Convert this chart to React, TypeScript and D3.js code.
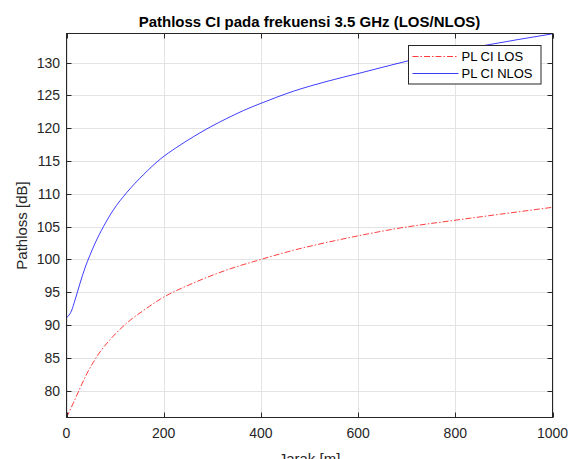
import React from "react";
import * as d3 from "d3";

const losDist = [0, 14, 28, 42, 55, 69, 90, 124, 158, 193, 261, 330, 400, 467, 536, 600, 687, 802, 893, 1000];
const losPL = [75.9, 78.1, 80.4, 82.6, 84.3, 85.9, 87.8, 90.3, 92.2, 93.95, 96.4, 98.4, 100.0, 101.4, 102.6, 103.6, 104.8, 106.0, 106.9, 107.95];

const nlosDist = [0, 11, 17.5, 28, 38, 48, 59, 76, 96, 124, 158, 193, 227, 261, 296, 330, 364, 400, 433, 467, 502, 536, 570, 603, 704, 858, 927, 1000];
const nlosPL = [91.1, 92.3, 93.8, 96.4, 98.7, 100.6, 102.5, 105.0, 107.5, 110.2, 112.9, 115.3, 117.1, 118.7, 120.2, 121.5, 122.7, 123.8, 124.75, 125.65, 126.45, 127.15, 127.8, 128.4, 130.3, 132.6, 133.5, 134.4];

const xTicks = [0, 200, 400, 600, 800, 1000];
const yTicks = [80, 85, 90, 95, 100, 105, 110, 115, 120, 125, 130];

const titleText = "Pathloss CI pada frekuensi 3.5 GHz (LOS/NLOS)";
const xLabel = "Jarak [m]";
const yLabel = "Pathloss [dB]";
const legendLabels = ["PL CI LOS", "PL CI NLOS"];

export default function App() {
  const W = 568, H = 459;
  const L = 66.5, R = 552.5, T = 33.5, B = 417.5;
  const x = d3.scaleLinear().domain([0, 1000]).range([L, R]);
  const y = d3.scaleLinear().domain([75.9, 134.45]).range([B, T]);
  const line = d3
    .line<[number, number]>()
    .x((d) => x(d[0]))
    .y((d) => y(d[1]))
    .curve(d3.curveMonotoneX);
  const losData = losDist.map((d, i) => [d, losPL[i]] as [number, number]);
  const nlosData = nlosDist.map((d, i) => [d, nlosPL[i]] as [number, number]);
  const font = "Liberation Sans, Arial, Helvetica, sans-serif";
  const axisColor = "#262626";
  const gridColor = "#e3e3e3";
  const dash = "6,2,1.5,2";

  const lgX = 408.5, lgY = 45.5, lgW = 132.5, lgH = 38.5;

  return (
    <svg
      width={W}
      height={H}
      style={{ position: "absolute", left: 0, top: 0, background: "#fff" }}
      fontFamily={font}
    >
      <rect x={0} y={0} width={W} height={H} fill="#fff" />
      {xTicks.map((t) => (
        <line key={"gx" + t} x1={Math.round(x(t)) + 0.5} x2={Math.round(x(t)) + 0.5} y1={T} y2={B} stroke={gridColor} strokeWidth={1} />
      ))}
      {yTicks.map((t) => (
        <line key={"gy" + t} x1={L} x2={R} y1={Math.round(y(t)) + 0.5} y2={Math.round(y(t)) + 0.5} stroke={gridColor} strokeWidth={1} />
      ))}
      <defs>
        <clipPath id="plotclip">
          <rect x={L} y={T - 1} width={R - L} height={B - T + 1} />
        </clipPath>
      </defs>
      <g clipPath="url(#plotclip)">
        <path d={line(losData) || ""} fill="none" stroke="#ff0000" strokeWidth={0.9} strokeDasharray={dash} opacity={0.85} />
        <path d={line(nlosData) || ""} fill="none" stroke="#0000ff" strokeWidth={0.9} opacity={0.85} />
      </g>
      <rect x={L} y={T} width={R - L} height={B - T} fill="none" stroke={axisColor} strokeWidth={1} />
      {xTicks.map((t) => {
        const px = Math.round(x(t)) + 0.5;
        return (
          <g key={"tx" + t}>
            <line x1={px} x2={px} y1={B} y2={B - 5} stroke={axisColor} />
            <line x1={px} x2={px} y1={T} y2={T + 5} stroke={axisColor} />
            <text x={x(t)} y={438} textAnchor="middle" fontSize={14} fill="#262626">
              {t}
            </text>
          </g>
        );
      })}
      {yTicks.map((t) => {
        const py = Math.round(y(t)) + 0.5;
        return (
          <g key={"ty" + t}>
            <line x1={L} x2={L + 5} y1={py} y2={py} stroke={axisColor} />
            <line x1={R} x2={R - 5} y1={py} y2={py} stroke={axisColor} />
            <text x={60} y={y(t) + 5} textAnchor="end" fontSize={14} fill="#262626">
              {t}
            </text>
          </g>
        );
      })}
      <text x={(L + R) / 2} y={27} textAnchor="middle" fontSize={15} fontWeight="bold" fill="#000">
        {titleText}
      </text>
      <text x={(L + R) / 2} y={464} textAnchor="middle" fontSize={15} fill="#262626">
        {xLabel}
      </text>
      <text transform={`translate(27, ${(T + B) / 2}) rotate(-90)`} textAnchor="middle" fontSize={15} fill="#262626">
        {yLabel}
      </text>
      <rect x={lgX} y={lgY} width={lgW} height={lgH} fill="#fff" stroke={axisColor} strokeWidth={1} />
      <line x1={412.5} x2={458.5} y1={56.5} y2={56.5} stroke="#ff0000" strokeWidth={0.9} strokeDasharray={dash} opacity={0.85} />
      <text x={461.5} y={61.3} fontSize={13} fill="#000">
        {legendLabels[0]}
      </text>
      <line x1={412.5} x2={458.5} y1={73.5} y2={73.5} stroke="#0000ff" strokeWidth={0.9} opacity={0.85} />
      <text x={461.5} y={78} fontSize={13} fill="#000">
        {legendLabels[1]}
      </text>
    </svg>
  );
}
